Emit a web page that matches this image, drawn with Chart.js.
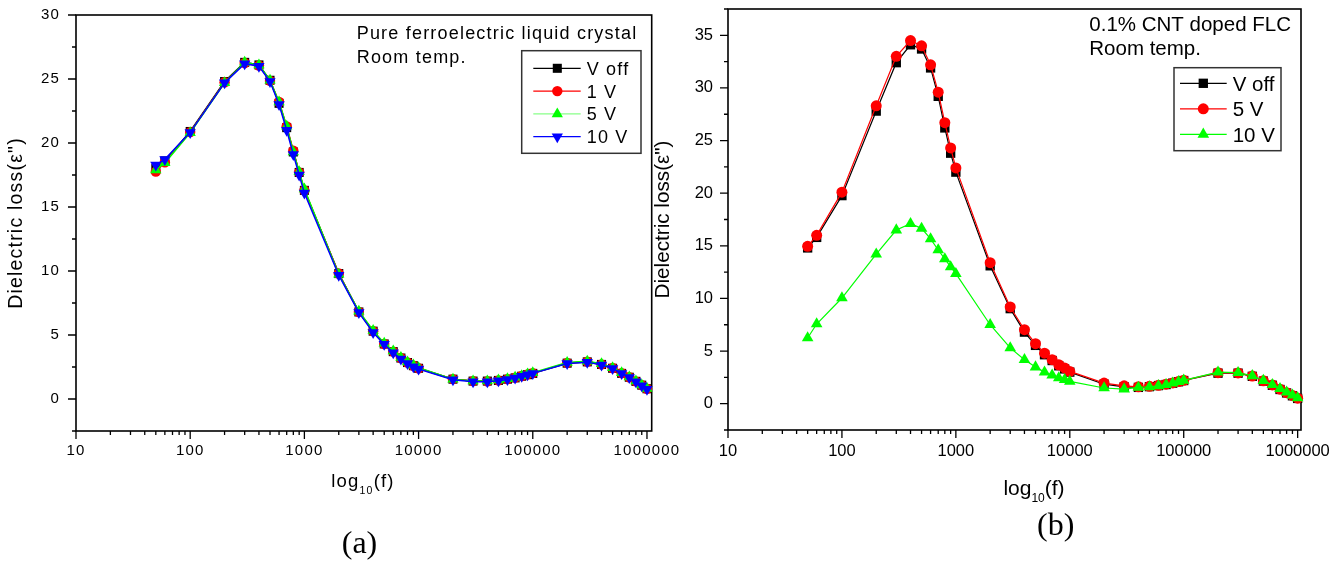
<!DOCTYPE html>
<html><head><meta charset="utf-8">
<script src="https://cdn.jsdelivr.net/npm/chart.js@4/dist/chart.umd.min.js"></script>
<style>
html,body{margin:0;padding:0;background:#fff;width:1341px;height:563px;overflow:hidden;position:relative}
canvas{position:absolute;top:0}
#ca{left:0}
#cb{left:640px}
</style></head><body>
<canvas id="ca" width="690" height="563"></canvas>
<canvas id="cb" width="701" height="563"></canvas>
<script>
// ---------- data ----------
const freq = [50,60,100,200,300,400,500,600,700,800,900,1000,2000,3000,4000,5000,6000,7000,8000,9000,10000,20000,30000,40000,50000,60000,70000,80000,90000,100000,200000,300000,400000,500000,600000,700000,800000,900000,1000000];

const aLabels = ['V off','1 V','5 V','10 V'];
const aVoff = [18.0,18.6,20.9,24.8,26.3,26.1,24.9,23.1,21.2,19.3,17.7,16.3,9.8,6.8,5.3,4.3,3.7,3.2,2.85,2.6,2.4,1.55,1.4,1.4,1.45,1.55,1.65,1.78,1.9,2.0,2.8,2.9,2.7,2.4,2.0,1.7,1.38,1.08,0.8];
const a1V   = [17.76,18.5,20.85,24.75,26.25,26.05,24.85,23.2,21.3,19.4,17.7,16.3,9.8,6.8,5.3,4.3,3.7,3.2,2.85,2.6,2.4,1.55,1.4,1.38,1.45,1.55,1.67,1.8,1.92,2.02,2.82,2.92,2.7,2.42,2.02,1.7,1.38,1.08,0.8];
const a5V   = [17.9,18.45,20.8,24.7,26.3,26.1,24.9,23.2,21.3,19.3,17.75,16.4,9.75,6.85,5.35,4.35,3.75,3.25,2.9,2.65,2.45,1.55,1.4,1.4,1.48,1.58,1.7,1.82,1.95,2.05,2.85,2.95,2.75,2.45,2.05,1.72,1.4,1.1,0.82];
const a10V  = [18.28,18.72,20.83,24.7,26.2,26.0,24.8,23.0,21.0,19.1,17.5,16.1,9.67,6.75,5.2,4.27,3.62,3.12,2.78,2.52,2.34,1.5,1.35,1.35,1.42,1.52,1.65,1.78,1.9,2.0,2.78,2.88,2.66,2.38,2.0,1.68,1.35,1.04,0.76];

const bLabels = ['V off','5 V','10 V'];
const bVoff = [14.8,15.8,19.77,27.8,32.4,34.1,33.7,31.9,29.2,26.2,23.8,22.0,13.1,9.03,6.8,5.54,4.65,4.1,3.6,3.3,3.0,1.85,1.6,1.55,1.62,1.72,1.82,1.95,2.08,2.2,2.9,2.9,2.6,2.15,1.75,1.35,1.02,0.75,0.5];
const b5V   = [14.95,16.0,20.1,28.3,33.0,34.5,34.0,32.2,29.6,26.7,24.3,22.4,13.4,9.19,7.03,5.7,4.8,4.18,3.7,3.4,3.07,1.96,1.7,1.6,1.65,1.75,1.85,1.97,2.1,2.22,2.95,2.92,2.62,2.18,1.78,1.38,1.05,0.78,0.52];
const b10V  = [6.24,7.57,10.04,14.2,16.5,17.1,16.66,15.65,14.6,13.75,13.0,12.35,7.5,5.3,4.18,3.48,3.0,2.7,2.44,2.28,2.12,1.49,1.39,1.55,1.6,1.7,1.8,1.95,2.1,2.22,3.0,2.95,2.65,2.2,1.8,1.42,1.1,0.8,0.55];

const xTickLabels = [10,100,1000,10000,100000,1000000];
const yTicksA = [0,5,10,15,20,25,30];
const yTicksB = [0,5,10,15,20,25,30,35];
const yTitle = 'Dielectric loss(ε")';
const notesA = ['Pure ferroelectric liquid crystal','Room temp.'];
const notesB = ['0.1% CNT doped FLC','Room temp.'];

// ---------- drawing ----------
const SANS = '"Liberation Sans", Arial, Helvetica, sans-serif';
const SERIF = '"Liberation Serif", "Times New Roman", serif';
Chart.defaults.font.family = SANS;
Chart.defaults.color = '#000';

function drawMarker(ctx, style, r, rot, x, y) {
  ctx.beginPath();
  if (style === 'circle') ctx.arc(x, y, r, 0, Math.PI * 2);
  else if (style === 'rect') { const s = Math.SQRT1_2 * r; ctx.rect(x - s, y - s, 2 * s, 2 * s); }
  else {
    let a = (rot || 0) * Math.PI / 180;
    ctx.moveTo(x + Math.sin(a) * r, y - Math.cos(a) * r);
    a += 2 * Math.PI / 3; ctx.lineTo(x + Math.sin(a) * r, y - Math.cos(a) * r);
    a += 2 * Math.PI / 3; ctx.lineTo(x + Math.sin(a) * r, y - Math.cos(a) * r);
    ctx.closePath();
  }
  ctx.fill();
}

const decor = {
  id: 'decor',
  beforeDraw(chart, args, o) { chart.ctx.letterSpacing = o.spacing; },
  beforeDatasetsDraw(chart, args, o) {
    const {ctx, chartArea: ca, scales: {x, y}} = chart;
    ctx.save();
    ctx.strokeStyle = '#000'; ctx.lineWidth = 1.6;
    ctx.strokeRect(ca.left, ca.top, ca.right - ca.left, ca.bottom - ca.top);
    ctx.lineWidth = 1.3;
    ctx.beginPath();
    for (let d = 10; d <= x.max; d *= 10) {
      for (let m = 1; m <= 9; m++) {
        const v = d * m; if (v > x.max) break;
        const px = x.getPixelForValue(v);
        const len = m === 1 ? 8 : 4;
        ctx.moveTo(px, ca.bottom); ctx.lineTo(px, ca.bottom + len);
      }
    }
    for (let v = y.min; v <= y.max + 1e-6; v += 2.5) {
      const py = y.getPixelForValue(v);
      const major = Math.abs(v / 5 - Math.round(v / 5)) < 1e-6;
      const len = major ? 8 : 4;
      ctx.moveTo(ca.left - len, py); ctx.lineTo(ca.left, py);
    }
    ctx.stroke();
    ctx.restore();
  },
  afterDraw(chart, args, o) {
    const ctx = chart.ctx;
    ctx.save();
    ctx.letterSpacing = o.spacing;
    // legend
    const L = o.legend;
    ctx.lineWidth = 1.5; ctx.strokeStyle = '#333';
    ctx.strokeRect(L.x, L.y, L.w, L.h);
    chart.data.datasets.forEach((d, i) => {
      const cy = L.row0 + i * L.step;
      ctx.strokeStyle = d.legendLine || d.borderColor; ctx.lineWidth = L.lw;
      ctx.beginPath(); ctx.moveTo(L.lx1, cy); ctx.lineTo(L.lx2, cy); ctx.stroke();
      ctx.fillStyle = d.pointBackgroundColor;
      drawMarker(ctx, d.pointStyle, d.pointRadius, d.pointRotation, L.mx, cy);
      ctx.fillStyle = '#000'; ctx.font = L.font; ctx.textAlign = 'left'; ctx.textBaseline = 'alphabetic';
      ctx.fillText(d.label, L.tx, cy + L.baseOff);
    });
    // notes
    ctx.font = o.notes.font; ctx.fillStyle = '#000'; ctx.textAlign = 'left'; ctx.textBaseline = 'alphabetic';
    o.notes.lines.forEach((t, i) => ctx.fillText(t, o.notes.x, o.notes.y0 + i * o.notes.step));
    // x title with subscript
    const t = o.xTitle;
    ctx.font = t.font; const w1 = ctx.measureText('log').width; const w3 = ctx.measureText('(f)').width;
    ctx.font = t.subFont; const w2 = ctx.measureText('10').width;
    let sx = t.cx - (w1 + w2 + w3) / 2;
    ctx.font = t.font; ctx.fillText('log', sx, t.y); sx += w1;
    ctx.font = t.subFont; ctx.fillText('10', sx, t.y + t.subOff); sx += w2;
    ctx.font = t.font; ctx.fillText('(f)', sx, t.y);
    // panel label
    ctx.letterSpacing = '0px';
    ctx.font = o.panel.font; ctx.textAlign = 'center';
    ctx.fillText(o.panel.text, o.panel.cx, o.panel.y);
    ctx.restore();
  }
};

function ds(label, vals, color, style, r, rot, lw, order, legendLine) {
  return {
    label, data: freq.map((f, i) => ({x: f, y: vals[i]})),
    borderColor: color, backgroundColor: color, borderWidth: lw,
    pointStyle: style, pointRadius: r, pointRotation: rot, pointBorderWidth: 0,
    pointBackgroundColor: color, pointHoverRadius: r, tension: 0, clip: false, order,
    legendLine
  };
}

function opts(c) {
  return {
    responsive: false, animation: false, events: [],
    layout: {padding: {left: 0, top: c.top, right: c.padRight, bottom: 0}},
    plugins: {legend: {display: false}, tooltip: {enabled: false}, decor: c.decor},
    scales: {
      x: {
        type: 'logarithmic', min: 10, max: c.xmax, position: 'bottom',
        grid: {display: false, drawTicks: true, tickLength: 8},
        border: {display: false},
        ticks: {autoSkip: false, maxRotation: 0, minRotation: 0, padding: c.xPad, color: '#000',
                font: {size: c.tickSize}, callback: v => String(v)},
        afterBuildTicks: s => { s.ticks = xTickLabels.map(v => ({value: v})); },
        afterFit: s => { s.height = c.xh; s.paddingLeft = 0; s.paddingRight = 0; }
      },
      y: {
        type: 'linear', min: c.ymin, max: c.ymax, position: 'left',
        grid: {display: false, drawTicks: true, tickLength: 8},
        border: {display: false},
        ticks: {autoSkip: false, padding: c.yPad, color: '#000', font: {size: c.tickSize}, callback: v => String(v)},
        afterBuildTicks: s => { s.ticks = c.yTicks.map(v => ({value: v})); },
        afterFit: s => { s.width = c.yw; s.paddingTop = 0; s.paddingBottom = 0; },
        title: {display: true, text: yTitle, color: '#000', font: {size: c.yTitleSize}, padding: {top: c.yTitlePad, bottom: 0}}
      }
    }
  };
}

// panel (a)
new Chart(document.getElementById('ca'), {
  type: 'line',
  plugins: [decor],
  data: {datasets: [
    ds(aLabels[0], aVoff, '#000000', 'rect', 6.4, 0, 1.5, 3),
    ds(aLabels[1], a1V, '#ff0000', 'circle', 5.2, 0, 1.5, 2),
    ds(aLabels[2], a5V, '#00ff00', 'triangle', 6.5, 0, 1.5, 1, '#88ff88'),
    ds(aLabels[3], a10V, '#0000ff', 'triangle', 6.5, 180, 1.5, 0)
  ]},
  options: opts({
    top: 15, padRight: 38.3, xh: 132, yw: 76, xmax: 1100000, ymin: -2.5, ymax: 30, yTicks: yTicksA,
    tickSize: 15, xPad: 3, yPad: 8, yTitleSize: 19.5, yTitlePad: 5,
    decor: {
      spacing: '1.2px',
      legend: {x: 521.7, y: 50.7, w: 119.3, h: 102.6, row0: 68.3, step: 22.8, lx1: 533.3, lx2: 580.7, mx: 557.3,
               tx: 586.7, lw: 1.3, font: '18px ' + SANS, baseOff: 6.5},
      notes: {lines: notesA, x: 356.7, y0: 39.3, step: 24, font: '18px ' + SANS},
      xTitle: {cx: 363, y: 487, font: '18.5px ' + SANS, subFont: '10.5px ' + SANS, subOff: 7},
      panel: {text: '(a)', cx: 359.5, y: 553, font: '32px ' + SERIF}
    }
  })
});

// panel (b)
new Chart(document.getElementById('cb'), {
  type: 'line',
  plugins: [decor],
  data: {datasets: [
    ds(bLabels[0], bVoff, '#000000', 'rect', 6.6, 0, 1.2, 2),
    ds(bLabels[1], b5V, '#ff0000', 'circle', 5.5, 0, 1.2, 1),
    ds(bLabels[2], b10V, '#00ff00', 'triangle', 6.7, 0, 1.2, 0)
  ]},
  options: opts({
    top: 9, padRight: 40, xh: 133, yw: 88, xmax: 1070000, ymin: -2.5, ymax: 37.5, yTicks: yTicksB,
    tickSize: 16.5, xPad: 4, yPad: 7, yTitleSize: 20.7, yTitlePad: 10.6,
    decor: {
      spacing: '0px',
      legend: {x: 534, y: 67.7, w: 107, h: 83, row0: 83.3, step: 25.5, lx1: 540, lx2: 586.7, mx: 563.3,
               tx: 592.7, lw: 1.2, font: '20.5px ' + SANS, baseOff: 7.3},
      notes: {lines: notesB, x: 449.3, y0: 31, step: 24, font: '20.5px ' + SANS},
      xTitle: {cx: 394, y: 495, font: '21px ' + SANS, subFont: '12px ' + SANS, subOff: 7},
      panel: {text: '(b)', cx: 415.7, y: 535, font: '32px ' + SERIF}
    }
  })
});
</script>
</body></html>
